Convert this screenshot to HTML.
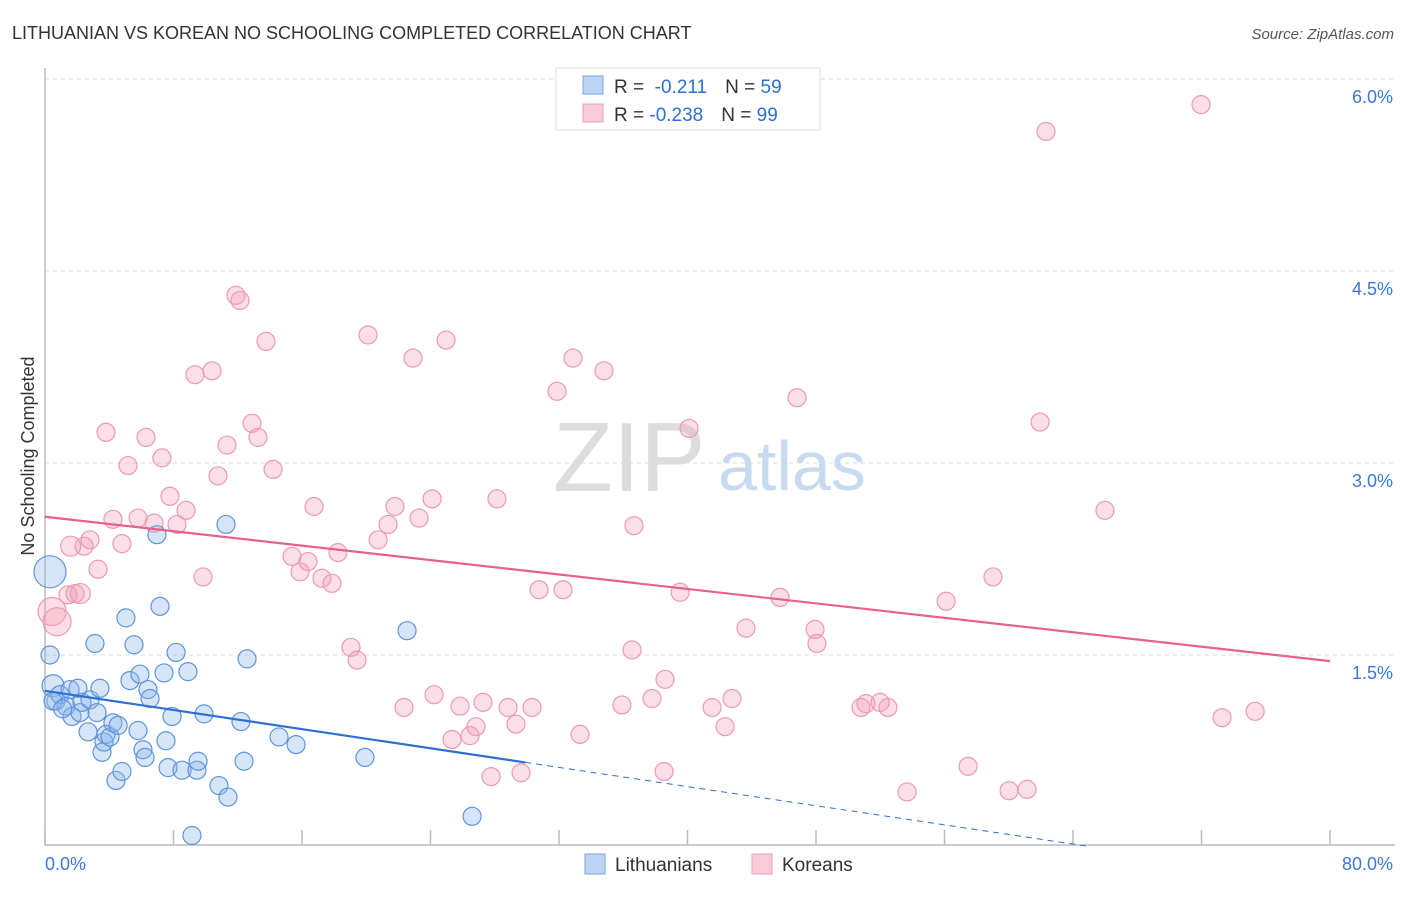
<!DOCTYPE html>
<html><head><meta charset="utf-8"><style>
body{margin:0;background:#fff;font-family:"Liberation Sans",sans-serif}
svg text{font-family:"Liberation Sans",sans-serif}
</style></head><body>
<svg id="chart" width="1406" height="892" viewBox="0 0 1406 892">
<text x="12" y="39" font-size="18" fill="#333">LITHUANIAN VS KOREAN NO SCHOOLING COMPLETED CORRELATION CHART</text>
<text x="1394" y="39" font-size="15" fill="#555" font-style="italic" text-anchor="end">Source: ZipAtlas.com</text>
<g id="grid"></g>
<g id="axes"></g>
<text x="553" y="491" font-size="98" fill="#ddd" font-family="Liberation Serif">ZIP</text>
<text x="718" y="490" font-size="70" fill="#c8daf0">atlas</text>
<g id="marks"></g>
<text transform="translate(34,456) rotate(-90)" font-size="18" fill="#333" text-anchor="middle">No Schooling Completed</text>
<g>
<rect x="556" y="68" width="264" height="62" fill="#fff" stroke="#ddd"/>
<rect x="583" y="76" width="20" height="18" fill="#bcd4f4" stroke="#7aa6e0"/>
<rect x="583" y="104" width="20" height="18" fill="#f9cbd8" stroke="#eba0b6"/>
<text x="614" y="93" font-size="19" fill="#333">R = <tspan fill="#2f6fd3">&#160;-0.211</tspan><tspan dx="18">N = </tspan><tspan fill="#2f6fd3">59</tspan></text>
<text x="614" y="121" font-size="19" fill="#333">R = <tspan fill="#2f6fd3">-0.238</tspan><tspan dx="18">N = </tspan><tspan fill="#2f6fd3">99</tspan></text>
</g>
<g>
<rect x="585" y="854" width="20" height="20" fill="#bcd4f4" stroke="#7aa6e0"/>
<text x="615" y="871" font-size="19" fill="#333">Lithuanians</text>
<rect x="752" y="854" width="20" height="20" fill="#f9cbd8" stroke="#eba0b6"/>
<text x="782" y="871" font-size="19" fill="#333">Koreans</text>
</g>
</svg>
<script>
const yTicks=[1.5,3.0,4.5,6.0];
const yTickLabels=["1.5%","3.0%","4.5%","6.0%"];
const xTickVals=[0,8,16,24,32,40,48,56,64,72,80];
const xEndLabels=["0.0%","80.0%"];
const ltX=[0.31,0.50,0.68,0.93,1.31,1.56,1.68,2.05,2.18,2.30,2.68,2.80,3.11,3.24,3.42,3.55,3.67,3.80,4.05,4.23,4.42,4.55,4.79,5.04,5.29,5.54,5.79,5.91,6.10,6.23,6.41,6.54,6.97,7.16,7.41,7.53,7.66,7.91,8.16,8.53,8.90,9.46,9.53,9.90,10.83,11.27,11.39,12.20,12.39,12.58,14.57,15.63,19.92,22.54,26.59,9.15,0.31,0.50,1.10];
const ltY=[2.15,1.26,1.14,1.19,1.10,1.23,1.02,1.24,1.05,1.13,0.90,1.15,1.59,1.05,1.24,0.74,0.82,0.88,0.86,0.97,0.52,0.95,0.59,1.79,1.30,1.58,0.91,1.35,0.76,0.70,1.23,1.16,2.44,1.88,1.36,0.83,0.62,1.02,1.52,0.60,1.37,0.60,0.67,1.04,0.48,2.52,0.39,0.98,0.67,1.47,0.86,0.80,0.70,1.69,0.24,0.09,1.50,1.14,1.08];
const ltSize=[16,11];
const krX=[0.44,0.75,1.43,1.87,2.43,2.80,3.30,3.80,4.23,4.79,5.17,5.79,6.29,6.79,7.28,7.78,8.22,8.78,9.34,9.84,10.40,10.77,11.33,11.89,12.14,12.89,13.26,13.76,14.20,15.38,15.88,16.37,16.75,17.24,17.87,18.24,19.05,19.43,20.11,20.74,21.36,21.79,22.35,22.91,23.29,24.10,24.22,24.97,25.34,25.84,26.46,26.83,27.27,27.77,28.14,28.83,29.32,29.64,30.32,30.76,31.88,32.25,32.87,33.31,34.80,35.92,36.55,36.67,37.79,38.54,38.60,39.54,40.10,41.53,42.34,42.77,43.64,45.76,46.82,47.94,48.06,50.80,51.11,51.99,52.48,53.67,56.10,57.47,59.02,60.02,61.14,61.95,62.32,65.99,71.97,73.28,75.34,1.60,2.20];
const krY=[1.84,1.76,1.97,1.98,2.35,2.40,2.17,3.24,2.56,2.37,2.98,2.57,3.20,2.53,3.04,2.74,2.52,2.63,3.69,2.11,3.72,2.90,3.14,4.31,4.27,3.31,3.20,3.95,2.95,2.27,2.15,2.23,2.66,2.10,2.06,2.30,1.56,1.46,4.00,2.40,2.52,2.66,1.09,3.82,2.57,2.72,1.19,3.96,0.84,1.10,0.87,0.94,1.13,0.55,2.72,1.09,0.96,0.58,1.09,2.01,3.56,2.01,3.82,0.88,3.72,1.11,1.54,2.51,1.16,0.59,1.31,1.99,3.27,1.09,0.94,1.16,1.71,1.95,3.51,1.70,1.59,1.09,1.12,1.13,1.09,0.43,1.92,0.63,2.11,0.44,0.45,3.32,5.59,2.63,5.80,1.01,1.06,2.35,1.98];
const ltTrend=[1.22,-0.0187,29.9,65];
const krTrend=[2.58,-0.0141,80];
const X0=45,X1=1330,YB=847,PX_PER=128;
const sx=v=>X0+(v/80)*(X1-X0);
const sy=v=>YB-v*PX_PER;
const NS="http://www.w3.org/2000/svg";
function mk(tag,attrs,parent){const e=document.createElementNS(NS,tag);for(const k in attrs)e.setAttribute(k,attrs[k]);parent.appendChild(e);return e;}
const grid=document.getElementById('grid'),axes=document.getElementById('axes'),marks=document.getElementById('marks');
yTicks.forEach((t,i)=>{
 const l=mk('line',{x1:45,x2:1395,y1:sy(t),y2:sy(t),stroke:'#d8d8d8','stroke-dasharray':'4 4'},grid);
 
 
 const tx=mk('text',{x:1393,y:sy(t)+24,'font-size':18,fill:'#3b78d8','text-anchor':'end'},grid);
 tx.textContent=yTickLabels[i];
 
 
});
const ya=mk('line',{x1:45,x2:45,y1:68,y2:846,stroke:'#bbb','stroke-width':1.5},axes);


const xa=mk('line',{x1:45,x2:1395,y1:845,y2:845,stroke:'#bbb','stroke-width':1.5},axes);


xTickVals.forEach(v=>{const t=mk('line',{x1:sx(v),x2:sx(v),y1:845,y2:830,stroke:'#bbb','stroke-width':1.5},axes);
 
 });
const xl0=mk('text',{x:45,y:870,'font-size':18,fill:'#3b78d8'},axes);xl0.textContent=xEndLabels[0];


const xl1=mk('text',{x:1393,y:870,'font-size':18,fill:'#3b78d8','text-anchor':'end'},axes);xl1.textContent=xEndLabels[1];


krX.forEach((x,i)=>{const r=i<2?14:(i>=krX.length-2?10:9);
 const c=mk('circle',{cx:sx(x),cy:sy(krY[i]),r:r,fill:'rgba(244,160,186,0.35)',stroke:'#eb9ab3','stroke-width':1.2},marks);
 
 });
ltX.forEach((x,i)=>{const r=i<ltSize.length?ltSize[i]:9;
 const c=mk('circle',{cx:sx(x),cy:sy(ltY[i]),r:r,fill:'rgba(140,180,236,0.35)',stroke:'#5f95dc','stroke-width':1.2},marks);
 
 });
const kt=mk('line',{x1:sx(0),y1:sy(krTrend[0]),x2:sx(krTrend[2]),y2:sy(krTrend[0]+krTrend[1]*krTrend[2]),stroke:'#e8618c','stroke-width':2.2},marks);


const lt=mk('line',{x1:sx(0),y1:sy(ltTrend[0]),x2:sx(ltTrend[2]),y2:sy(ltTrend[0]+ltTrend[1]*ltTrend[2]),stroke:'#2f6fd3','stroke-width':2.2},marks);


const ld=mk('line',{x1:sx(ltTrend[2]),y1:sy(ltTrend[0]+ltTrend[1]*ltTrend[2]),x2:sx(ltTrend[3]),y2:sy(ltTrend[0]+ltTrend[1]*ltTrend[3]),stroke:'#2f6fd3','stroke-width':1,'stroke-dasharray':'6 5'},marks);


</script>
</body></html>
